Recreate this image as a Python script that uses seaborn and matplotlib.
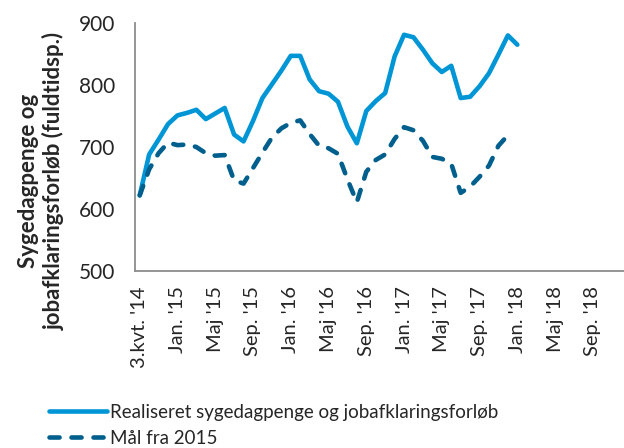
import numpy as np
import pandas as pd
import matplotlib
matplotlib.use("Agg")
import matplotlib.pyplot as plt
import seaborn as sns

# category axis: 3rd quarter 2014, then monthly Oct '14 - Dec '18
month_abbr = ["Jan.", "Feb.", "Mar.", "Apr.", "Maj", "Jun.",
              "Jul.", "Aug.", "Sep.", "Okt.", "Nov.", "Dec."]
years = [14, 15, 16, 17, 18]
categories = ["3.kvt. '14"] + [f"{m} '{y}" for y in years for i, m in enumerate(month_abbr)
                               if not (y == 14 and i < 9)]

realised = [622, 688, 712, 737, 751, 755, 760, 745, 754, 763, 720, 709, 742,
            779, 801, 823, 847, 847, 809, 790, 786, 773, 733, 706, 758, 774,
            787, 846, 881, 877, 857, 835, 821, 831, 779, 781, 798, 819, 849,
            880, 865]
target = [622, 664, 690, 707, 703, 704, 700, 690, 686, 687, 646, 641, 666,
          691, 715, 730, 739, 743, 721, 702, 698, 689, 648, 611, 660, 679,
          688, 713, 732, 727, 710, 684, 681, 673, 626, 636, 652, 670, 702,
          719]

label_realised = "Realiseret sygedagpenge og jobafklaringsforløb"
label_target = "Mål fra 2015"

c_realised = "#0096d6"
c_target = "#005f8c"
grey = "#8c8c8c"

sns.set_style("white")
plt.rcParams["font.family"] = ["Lato", "DejaVu Sans"]

fig = plt.figure(figsize=(6.24, 4.48), dpi=100)
# axis runs off the right edge like in the source
ax = fig.add_axes([135 / 624, 1 - 271 / 448, (52 * 9.44) / 624, 248 / 448])

df_r = pd.DataFrame({"pos": np.arange(len(realised)), "value": realised})
df_t = pd.DataFrame({"pos": np.arange(len(target)), "value": target})

sns.lineplot(data=df_r, x="pos", y="value", ax=ax, color=c_realised,
             linewidth=3.3, solid_capstyle="round", solid_joinstyle="round",
             label=label_realised)
sns.lineplot(data=df_t, x="pos", y="value", ax=ax, color=c_target,
             linewidth=3.3, label=label_target)
ax.lines[1].set_dashes((2.2, 2.6))
ax.lines[1].set_dash_capstyle("round")

ax.set_xlim(-0.5, len(categories) - 0.5)
ax.set_ylim(500, 900)
ax.set_yticks([500, 600, 700, 800, 900])

label_pos = np.arange(0, len(categories), 4)
ax.set_xticks(label_pos)
ax.set_xticklabels([categories[i] for i in label_pos], rotation=90, fontsize=14.5)
ax.set_xticks(np.arange(-0.5, len(categories), 1), minor=True)
ax.tick_params(axis="x", which="major", length=0, pad=11)
ax.tick_params(axis="x", which="minor", length=5, width=1, color=grey, direction="out")
ax.tick_params(axis="y", length=6, width=1, color=grey, direction="out",
               pad=8, labelsize=15)

for s in ["top", "right"]:
    ax.spines[s].set_visible(False)
for s in ["left", "bottom"]:
    ax.spines[s].set_color(grey)
    ax.spines[s].set_linewidth(1.3)

ax.set_xlabel("")
ax.set_ylabel("")
fig.text(41 / 624, 1 - 181 / 448, "Sygedagpenge og\njobafklaringsforløb (fuldtidsp.)",
         rotation=90, ha="center", va="center", multialignment="center",
         fontsize=16, fontweight="bold")

handles, labels = ax.get_legend_handles_labels()
ax.legend_.remove()
fig.legend(handles, labels, loc="upper left", bbox_to_anchor=(41 / 624, 1 - 396 / 448),
           frameon=False, fontsize=13.5, handlelength=3.1, handletextpad=0.16,
           labelspacing=0.5, borderaxespad=0)

fig.savefig("out.png", dpi=100)
